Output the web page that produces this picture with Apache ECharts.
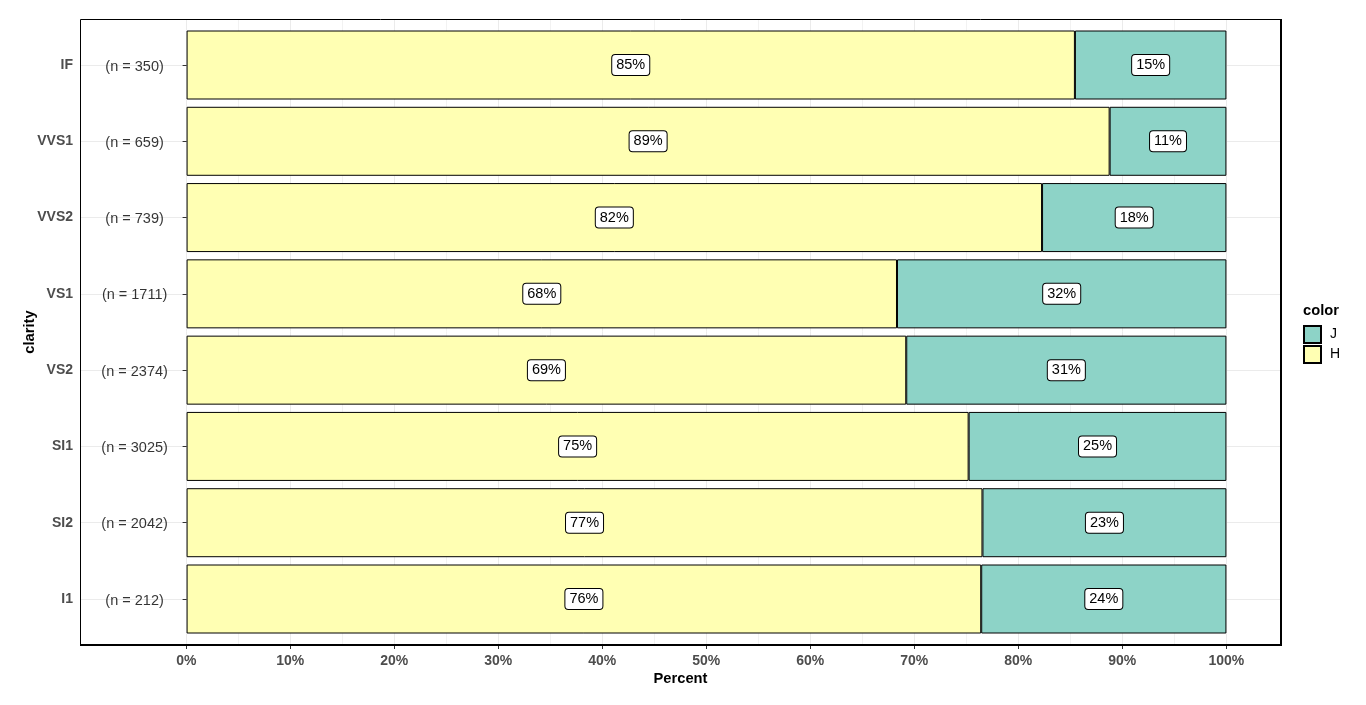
<!DOCTYPE html>
<html><head><meta charset="utf-8">
<script src="https://cdn.jsdelivr.net/npm/echarts@6/dist/echarts.min.js"></script>
<style>html,body{margin:0;padding:0;background:#fff}#c{width:1366px;height:705px}</style>
</head><body><div id="c"></div>
<script>
const categories = ['IF', 'VVS1', 'VVS2', 'VS1', 'VS2', 'SI1', 'SI2', 'I1'];
const nCounts = [350, 659, 739, 1711, 2374, 3025, 2042, 212];
const shareH = [0.8543, 0.8877, 0.8227, 0.6832, 0.6921, 0.7521, 0.7654, 0.7642];
const shareJ = [0.1457, 0.1123, 0.1773, 0.3168, 0.3079, 0.2479, 0.2346, 0.2358];
const nLabelX = -0.05;
const seriesNames = ['H', 'J'];
const legendOrder = ['J', 'H'];

const FONT = 'Liberation Sans, Arial, sans-serif';
const pctLabel = {
  show: true, position: 'inside',
  formatter: p => Math.round(p.value * 100) + '%',
  color: '#000', fontSize: 14.5, fontFamily: FONT, lineHeight: 16,
  backgroundColor: '#fff', borderColor: '#000', borderWidth: 1, borderRadius: 3,
  padding: [3, 4, 1, 4]
};

const chart = echarts.init(document.getElementById('c'), null, {renderer: 'canvas'});
chart.setOption({
  animation: false,
  backgroundColor: '#fff',
  textStyle: {fontFamily: FONT},
  grid: [
    {left: 186.3, top: 19, width: 1040, height: 625},
    {left: 80, top: 65, width: 1201, height: 534}
  ],
  xAxis: [
    {
      gridIndex: 0, type: 'value', min: 0, max: 1, interval: 0.1,
      axisLine: {show: false},
      axisTick: {show: true, length: 5, lineStyle: {color: '#333'}},
      axisLabel: {formatter: v => Math.round(v * 100) + '%', fontWeight: 'bold', fontSize: 14, color: '#4d4d4d', margin: 10, fontFamily: FONT},
      splitLine: {show: true, lineStyle: {color: '#ebebeb', width: 1}},
      minorTick: {show: false, splitNumber: 2},
      minorSplitLine: {show: true, lineStyle: {color: '#f2f2f2', width: 1}}
    },
    {
      gridIndex: 1, type: 'value', min: -0.1025, max: 1.0525, show: true,
      axisLine: {show: false}, axisTick: {show: false}, axisLabel: {show: false}, splitLine: {show: false},
      name: 'Percent', nameLocation: 'middle', nameGap: 72, nameMoveOverlap: false,
      nameTextStyle: {fontWeight: 'bold', fontSize: 14.7, color: '#000', fontFamily: FONT}
    }
  ],
  yAxis: [
    {gridIndex: 0, type: 'value', show: false},
    {
      gridIndex: 1, type: 'category', data: categories, inverse: true, boundaryGap: false,
      axisLine: {show: false},
      axisTick: {show: true, length: 4, lineStyle: {color: '#333'}},
      axisLabel: {fontWeight: 'bold', fontSize: 14, color: '#4d4d4d', margin: 7, fontFamily: FONT, padding: [3, 0, 0, 0]},
      splitLine: {show: true, lineStyle: {color: '#ebebeb', width: 1}},
      name: 'clarity', nameLocation: 'middle', nameGap: 43, nameMoveOverlap: false,
      nameTextStyle: {fontWeight: 'bold', fontSize: 14.7, color: '#000', fontFamily: FONT}
    }
  ],
  legend: {
    data: legendOrder, orient: 'vertical', left: 1303, top: 325, padding: 0,
    itemWidth: 17, itemHeight: 17, itemGap: 1, icon: 'rect',
    textStyle: {fontSize: 14, color: '#000', fontFamily: FONT, padding: [0, 0, 0, 4]},
    selectedMode: false
  },
  graphic: [
    {type: 'text', left: 1303, top: 303.5, style: {text: 'color', font: 'bold 14.7px ' + FONT, fill: '#000'}, z: 100},
    {type: 'rect', shape: {x: 80.5, y: 19.5, width: 1200, height: 625}, style: {fill: 'none', stroke: '#000', lineWidth: 1}, z: 100, silent: true},
    {type: 'line', shape: {x1: 1281, y1: 19, x2: 1281, y2: 646}, style: {stroke: '#000', lineWidth: 2}, z: 100, silent: true},
    {type: 'line', shape: {x1: 80, y1: 645, x2: 1282, y2: 645}, style: {stroke: '#000', lineWidth: 2}, z: 100, silent: true}
  ],
  series: [
    {
      name: seriesNames[0], type: 'bar', xAxisIndex: 1, yAxisIndex: 1, stack: 'a',
      data: shareH, barWidth: 69, clip: false,
      itemStyle: {color: '#FFFFB3', borderColor: '#000', borderWidth: 1},
      label: pctLabel, z: 3
    },
    {
      name: seriesNames[1], type: 'bar', xAxisIndex: 1, yAxisIndex: 1, stack: 'a',
      data: shareJ, barWidth: 69, clip: false,
      itemStyle: {color: '#8DD3C7', borderColor: '#000', borderWidth: 1},
      label: pctLabel, z: 3
    },
    {
      name: 'n', type: 'scatter', xAxisIndex: 1, yAxisIndex: 1, clip: false, silent: true,
      symbolSize: 1, itemStyle: {color: 'transparent'},
      data: categories.map(c => [nLabelX, c]),
      label: {
        show: true, position: 'inside', offset: [0, 1.5],
        formatter: p => '(n = ' + nCounts[p.dataIndex] + ')',
        color: '#000', fontSize: 14.5, fontFamily: FONT
      },
      z: 4
    }
  ]
});
</script></body></html>
